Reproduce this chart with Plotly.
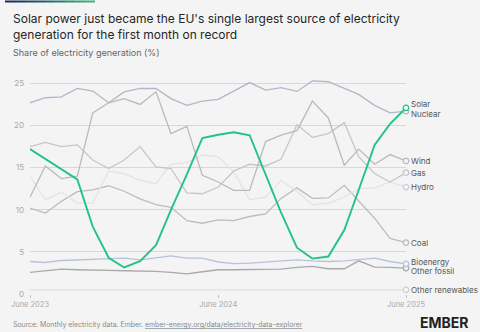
import plotly.graph_objects as go
import pandas as pd

months = pd.date_range("2023-06-01", "2025-06-01", freq="MS")

solar = [17.2, 16.0, 14.8, 13.6, 8.0, 4.3, 3.15, 3.9, 5.8, 10.0, 14.2, 18.5, 18.9,
         19.2, 18.85, 14.3, 9.7, 5.5, 4.2, 4.45, 7.6, 12.35, 17.7, 20.2, 22.1]
nuclear = [22.7, 23.3, 23.4, 24.4, 24.1, 22.7, 24.0, 24.4, 24.4, 23.2, 22.4, 22.9, 23.1,
           24.1, 25.1, 24.2, 24.5, 24.05, 25.3, 25.2, 24.4, 23.7, 22.4, 21.5, 21.7]
wind = [11.5, 15.2, 13.7, 14.0, 21.5, 22.7, 23.2, 22.5, 24.0, 19.05, 19.9, 14.1, 13.3,
        12.3, 12.3, 18.1, 18.85, 19.4, 22.9, 20.9, 15.3, 17.2, 15.4, 16.55, 15.8]
gas = [17.5, 18.0, 17.5, 17.7, 15.9, 14.9, 15.9, 17.5, 15.1, 14.9, 12.0, 11.9, 12.7,
       14.6, 15.4, 15.2, 16.0, 20.1, 18.6, 19.05, 20.35, 16.3, 14.3, 13.3, 14.4]
hydro = [14.0, 11.2, 12.1, 10.8, 10.8, 14.6, 14.3, 13.5, 13.1, 15.4, 15.6, 16.5, 16.3,
         14.5, 11.2, 11.5, 13.5, 12.2, 10.6, 10.8, 11.5, 12.5, 12.6, 13.3, 12.7]
coal = [10.2, 9.6, 11.0, 12.15, 12.35, 12.85, 12.2, 11.3, 10.6, 10.3, 8.7, 8.4, 8.8,
        8.7, 9.2, 9.5, 11.35, 12.6, 11.35, 11.4, 12.9, 11.0, 9.0, 6.6, 6.1]
bioenergy = [3.86, 3.74, 3.98, 4.06, 4.06, 4.18, 4.26, 4.06, 4.26, 4.53, 4.26, 4.26, 3.8,
             3.6, 3.67, 3.78, 3.94, 4.06, 3.94, 3.86, 3.94, 4.06, 4.26, 3.86, 3.58]
other_fossil = [2.56, 2.76, 2.96, 2.88, 2.8, 2.8, 2.76, 2.76, 2.68, 2.56, 2.4, 2.64, 2.88,
                2.88, 2.88, 2.88, 2.95, 3.15, 3.27, 3.0, 3.0, 3.94, 3.2, 3.15, 3.07]
other_renewables = [0.5, 0.5, 0.5, 0.5, 0.5, 0.5, 0.5, 0.5, 0.5, 0.5, 0.5, 0.5, 0.5,
                    0.5, 0.5, 0.5, 0.5, 0.5, 0.5, 0.5, 0.5, 0.5, 0.5, 0.5, 0.5]

x_ticks = ["June 2023", "June 2024", "June 2025"]
y_ticks = [0, 5, 10, 15, 20, 25]

# name, values, colour, width, label pixel row (None = at the value)
series = [
    ("Other renewables", other_renewables, "#e2e2e2", 1.2, 290.0),
    ("Other fossil", other_fossil, "#a9a9a9", 1.3, 271.0),
    ("Bioenergy", bioenergy, "#b7c2dc", 1.3, 261.5),
    ("Coal", coal, "#bcbcbc", 1.3, None),
    ("Hydro", hydro, "#e3e3e8", 1.3, None),
    ("Gas", gas, "#c6c6c6", 1.3, None),
    ("Wind", wind, "#bababa", 1.3, None),
    ("Nuclear", nuclear, "#b5b5c9", 1.3, 113.5),
    ("Solar", solar, "#22c383", 1.9, 104.0),
]

T, B = 75, 38
H = 332 - T - B
L, R = 30, 74
W = 480 - L - R
y0_px, px_per = 332 - B, H / 26.0


def py(p):
    return (332 - B - p) / H


def px(p):
    return (p - L) / W


fig = go.Figure()
for name, vals, color, w, label_px in series:
    fig.add_trace(go.Scatter(
        x=months, y=vals, mode="lines", line=dict(color=color, width=w),
        hoverinfo="skip", cliponaxis=False, showlegend=False))
    fig.add_trace(go.Scatter(
        x=[months[-1]], y=[vals[-1]], mode="markers",
        marker=dict(symbol="circle", size=5.5, color="#f4f4f4",
                    line=dict(color=color if name not in ("Hydro", "Other renewables") else "#cfcfd4",
                              width=1.3)),
        hoverinfo="skip", cliponaxis=False, showlegend=False))
    ypix = y0_px - vals[-1] * px_per
    shift = 0 if label_px is None else -(label_px - ypix)
    fig.add_annotation(x=months[-1], y=vals[-1], text=name, showarrow=False,
                       xanchor="left", yanchor="middle", xshift=3, yshift=shift,
                       font=dict(size=8, color="#555555", family="Inter"))

fig.update_layout(
    width=480, height=332,
    margin=dict(l=L, r=R, t=T, b=B),
    paper_bgcolor="#f4f4f4", plot_bgcolor="#f4f4f4",
    font=dict(family="Inter", color="#aaaaaa", size=8),
    xaxis=dict(range=[months[0], months[-1]], showgrid=False, zeroline=False,
               tickvals=[months[0], months[12], months[24]],
               ticktext=x_ticks,
               ticks="outside", ticklen=3, tickcolor="#c0c0c0",
               tickfont=dict(size=7.5, color="#aaaaaa"), showline=False),
    yaxis=dict(range=[0, 26], tickvals=y_ticks,
               showgrid=True, gridcolor="#d8d8d8", gridwidth=1, zeroline=False,
               tickfont=dict(size=8, color="#aaaaaa"), ticklabelstandoff=5),
)

fig.add_annotation(xref="paper", yref="paper", xanchor="left", yanchor="middle", align="left",
                   x=px(11), y=py(18.5),
                   text="Solar power just became the EU's single largest source of electricity",
                   showarrow=False, font=dict(family="Inter", size=12, color="#262626"))
fig.add_annotation(xref="paper", yref="paper", xanchor="left", yanchor="middle", align="left",
                   x=px(11), y=py(34.5),
                   text="generation for the first month on record",
                   showarrow=False, font=dict(family="Inter", size=12, color="#262626"))
fig.add_annotation(xref="paper", yref="paper", xanchor="left", yanchor="middle",
                   x=px(11), y=py(52.5),
                   text="Share of electricity generation (%)",
                   showarrow=False, font=dict(family="Inter", size=9, color="#666666"))
fig.add_annotation(xref="paper", yref="paper", xanchor="left", yanchor="middle",
                   x=px(11), y=py(324.5),
                   text="Source: Monthly electricity data. Ember. <u>ember-energy.org/data/electricity-data-explorer</u>",
                   showarrow=False, font=dict(family="Inter", size=6.9, color="#8a8a8a"))
fig.add_annotation(xref="paper", yref="paper", xanchor="right", yanchor="middle",
                   x=px(471), y=py(322.5),
                   text="<b>EMBER</b>", showarrow=False,
                   font=dict(family="Inter", size=14, color="#222222"))

# gradient bar at the top-left
grad = ["#1c2f55", "#1d3a5a", "#1f4a60", "#225a66", "#266b6c", "#2a7c72", "#2e8d76", "#35a07b", "#3bb27f"]
seg = 90 / len(grad)
for i, c in enumerate(grad):
    fig.add_shape(type="line", xref="paper", yref="paper", layer="above",
                  x0=px(5 + i * seg), x1=px(5 + (i + 1) * seg), y0=py(1.5), y1=py(1.5),
                  line=dict(color=c, width=2))

fig.write_html("out.html")
